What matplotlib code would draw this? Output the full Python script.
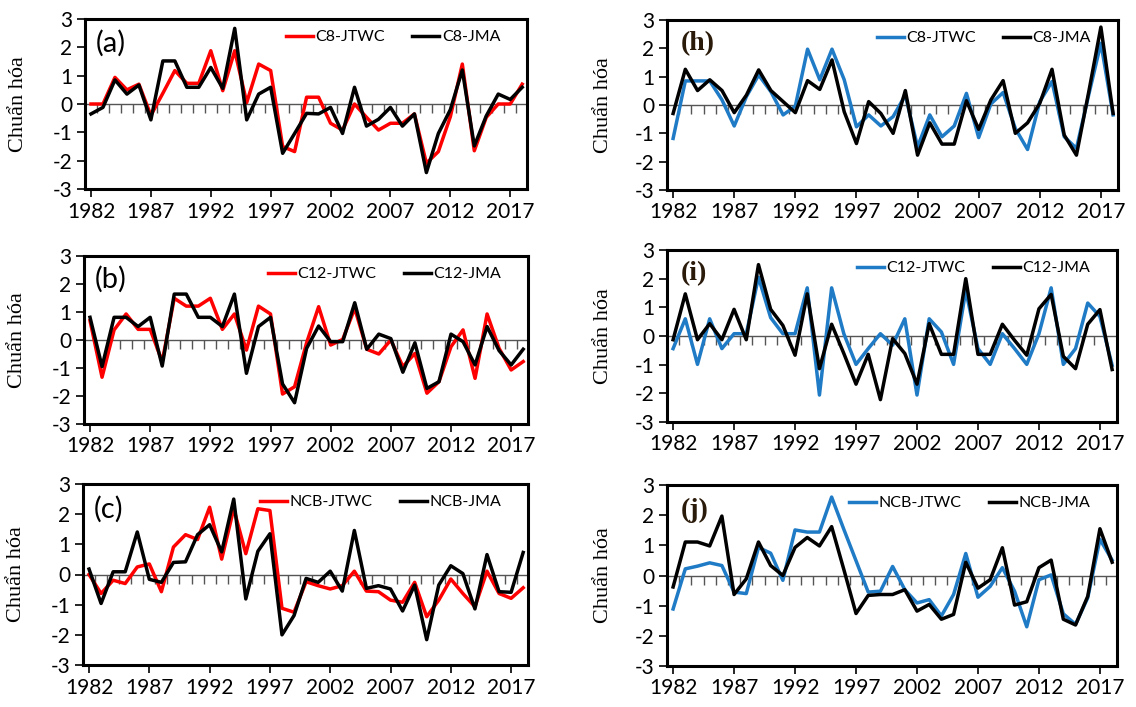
import numpy as np
import matplotlib
matplotlib.use("Agg")
import matplotlib.pyplot as plt

plt.rcParams["font.family"] = ["Lato", "DejaVu Sans"]
plt.rcParams["axes.unicode_minus"] = False

years = np.arange(1982, 2019)
year_ticks = [1982, 1987, 1992, 1997, 2002, 2007, 2012, 2017]

# (a) C8
c8_jtwc_a = [0.0, 0.0, 0.94, 0.5, 0.7, -0.4, 0.38, 1.18, 0.73, 0.73, 1.88, 0.47, 1.88, 0.05,
             1.41, 1.18, -1.5, -1.68, 0.24, 0.24, -0.68, -0.92, 0.0, -0.47, -0.92, -0.68,
             -0.68, -0.35, -2.09, -1.68, -0.45, 1.41, -1.65, -0.47, 0.0, 0.0, 0.7]
c8_jma_a = [-0.35, -0.12, 0.85, 0.35, 0.67, -0.56, 1.52, 1.52, 0.59, 0.59, 1.29, 0.55, 2.67,
            -0.56, 0.35, 0.59, -1.74, -1.04, -0.33, -0.35, -0.12, -1.04, 0.59, -0.78, -0.54,
            -0.12, -0.78, -0.35, -2.42, -1.04, -0.2, 1.2, -1.48, -0.42, 0.35, 0.16, 0.59]

# (b) C12
c12_jtwc_b = [0.69, -1.33, 0.36, 0.93, 0.38, 0.38, -0.77, 1.49, 1.21, 1.21, 1.49, 0.38, 0.93,
              -0.36, 1.21, 0.93, -1.93, -1.67, -0.1, 1.19, -0.18, 0.02, 1.13, -0.33, -0.5,
              0.0, -0.95, -0.48, -1.9, -1.49, -0.24, 0.36, -1.37, 0.93, -0.3, -1.07, -0.77]
c12_jma_b = [0.81, -0.95, 0.81, 0.81, 0.48, 0.81, -0.93, 1.64, 1.64, 0.81, 0.81, 0.48, 1.64,
             -1.19, 0.48, 0.81, -1.57, -2.24, -0.3, 0.5, -0.06, -0.06, 1.33, -0.33, 0.21,
             0.05, -1.15, -0.1, -1.73, -1.49, 0.21, -0.06, -0.89, 0.48, -0.38, -0.89, -0.33]

# (c) NCB
ncb_jtwc_c = [0.0, -0.63, -0.19, -0.3, 0.25, 0.35, -0.57, 0.91, 1.32, 1.16, 2.23, 0.51, 2.18,
              0.69, 2.18, 2.12, -1.12, -1.25, -0.24, -0.37, -0.48, -0.37, 0.11, -0.55, -0.57,
              -0.85, -0.92, -0.26, -1.4, -0.85, -0.15, -0.63, -1.07, 0.11, -0.63, -0.79, -0.44]
ncb_jma_c = [0.18, -0.96, 0.09, 0.09, 1.41, -0.16, -0.26, 0.4, 0.42, 1.32, 1.65, 0.75, 2.5,
             -0.81, 0.77, 1.35, -2.0, -1.36, -0.13, -0.26, 0.11, -0.55, 1.46, -0.46, -0.37,
             -0.48, -1.21, -0.35, -2.16, -0.35, 0.29, 0.03, -1.14, 0.66, -0.57, -0.59, 0.73]

# (h) C8
c8_jtwc_h = [-1.18, 0.85, 0.85, 0.85, 0.18, -0.74, 0.3, 1.06, 0.47, -0.35, -0.04, 1.97, 0.89,
             1.97, 0.89, -0.77, -0.35, -0.74, -0.41, 0.35, -1.48, -0.35, -1.12, -0.74, 0.41,
             -1.15, 0.04, 0.44, -0.83, -1.57, 0.12, 0.83, -1.12, -1.53, 0.35, 2.18, -0.35]
c8_jma_h = [-0.3, 1.26, 0.51, 0.89, 0.51, -0.27, 0.35, 1.24, 0.51, 0.12, -0.27, 0.86, 0.55,
            1.59, -0.24, -1.36, 0.12, -0.3, -1.0, 0.51, -1.77, -0.63, -1.38, -1.38, 0.15,
            -0.86, 0.18, 0.86, -1.0, -0.63, 0.06, 1.26, -1.06, -1.77, 0.45, 2.75, -0.3]

# (i) C12
c12_jtwc_i = [-0.44, 0.6, -0.99, 0.6, -0.44, 0.08, 0.08, 2.05, 0.64, 0.08, 0.08, 1.68, -2.06,
              1.68, 0.08, -0.99, -0.44, 0.08, -0.32, 0.6, -2.06, 0.6, 0.14, -0.99, 1.59,
              -0.44, -0.99, 0.08, -0.44, -0.99, 0.08, 1.68, -0.99, -0.44, 1.15, 0.68, -1.02]
c12_jma_i = [-0.13, 1.47, -0.13, 0.43, -0.13, 0.93, -0.13, 2.49, 0.93, 0.37, -0.67, 1.47,
             -1.14, 0.41, -0.61, -1.68, -0.64, -2.22, -0.09, -0.61, -1.68, 0.43, -0.64, -0.64,
             2.0, -0.64, -0.64, 0.41, -0.15, -0.67, 0.95, 1.45, -0.71, -1.14, 0.41, 0.92, -1.17]

# (j) NCB
ncb_jtwc_j = [-1.11, 0.22, 0.31, 0.42, 0.33, -0.55, -0.6, 0.93, 0.74, -0.16, 1.51, 1.44, 1.44,
              2.6, 1.53, 0.49, -0.55, -0.52, 0.3, -0.47, -0.91, -0.8, -1.34, -0.63, 0.73,
              -0.72, -0.36, 0.26, -0.52, -1.7, -0.14, 0.02, -1.27, -1.62, -0.74, 1.2, 0.51]
ncb_jma_j = [-0.38, 1.11, 1.11, 0.98, 1.97, -0.63, -0.11, 1.11, 0.33, 0.0, 0.93, 1.26, 0.98,
             1.62, 0.2, -1.26, -0.66, -0.63, -0.63, -0.47, -1.18, -0.96, -1.45, -1.29, 0.44,
             -0.42, -0.14, 0.92, -0.98, -0.87, 0.26, 0.51, -1.45, -1.64, -0.69, 1.55, 0.44]

RED = "#FF0000"
BLUE = "#1F7BC5"
W, H = 1136, 707

# (box in pixels: left, top, right, bottom), label, serif label?, series...
panels = [
    ((85, 19, 527, 189), "(a)", False, RED, "C8-JTWC", c8_jtwc_a, "C8-JMA", c8_jma_a),
    ((84, 256, 528, 424), "(b)", False, RED, "C12-JTWC", c12_jtwc_b, "C12-JMA", c12_jma_b),
    ((83, 484, 528, 665), "(c)", False, RED, "NCB-JTWC", ncb_jtwc_c, "NCB-JMA", ncb_jma_c),
    ((667, 20, 1118, 190), "(h)", True, BLUE, "C8-JTWC", c8_jtwc_h, "C8-JMA", c8_jma_h),
    ((667, 250, 1117, 422), "(i)", True, BLUE, "C12-JTWC", c12_jtwc_i, "C12-JMA", c12_jma_i),
    ((667, 485, 1117, 666), "(j)", True, BLUE, "NCB-JTWC", ncb_jtwc_j, "NCB-JMA", ncb_jma_j),
]

fig = plt.figure(figsize=(W / 100, H / 100), dpi=100)

for (l, t, r, b), tag, serif, col, n1, s1, n2, s2 in panels:
    ax = fig.add_axes([l / W, 1 - b / H, (r - l) / W, (b - t) / H])
    ax.axhline(0, color="#555555", lw=1.0, zorder=1)
    ax.vlines(years[:-1] + 0.5, -0.32, 0, color="#555555", lw=1.0, zorder=1)
    ax.plot(years, s1, color=col, lw=2.5, label=n1, zorder=2)
    ax.plot(years, s2, color="black", lw=2.5, label=n2, zorder=3)

    ax.set_xlim(1981.5, 2018.4)
    ax.set_ylim(-3, 3)
    ax.set_yticks(range(-3, 4))
    ax.set_xticks(year_ticks)
    ax.tick_params(axis="both", direction="out", length=6, width=1.2, labelsize=15, pad=3)
    for sp in ax.spines.values():
        sp.set_linewidth(2.2)

    ax.set_ylabel("Chuẩn hóa", family="Liberation Serif", fontsize=16,
                  labelpad=18 if not serif else 16)

    if serif:
        ax.text(0.03, 0.86, tag, transform=ax.transAxes, family="Liberation Serif",
                fontweight="bold", fontsize=20, color="#2a1a0a", va="center")
    else:
        ax.text(0.025, 0.86, tag, transform=ax.transAxes, fontsize=21, va="center")

    ax.legend(loc="upper right", ncol=2, frameon=False, fontsize=11.5,
              handlelength=1.7, handletextpad=0.15, columnspacing=1.7,
              bbox_to_anchor=(0.965, 1.0), borderaxespad=0.3)

fig.savefig("out.png", dpi=100)
